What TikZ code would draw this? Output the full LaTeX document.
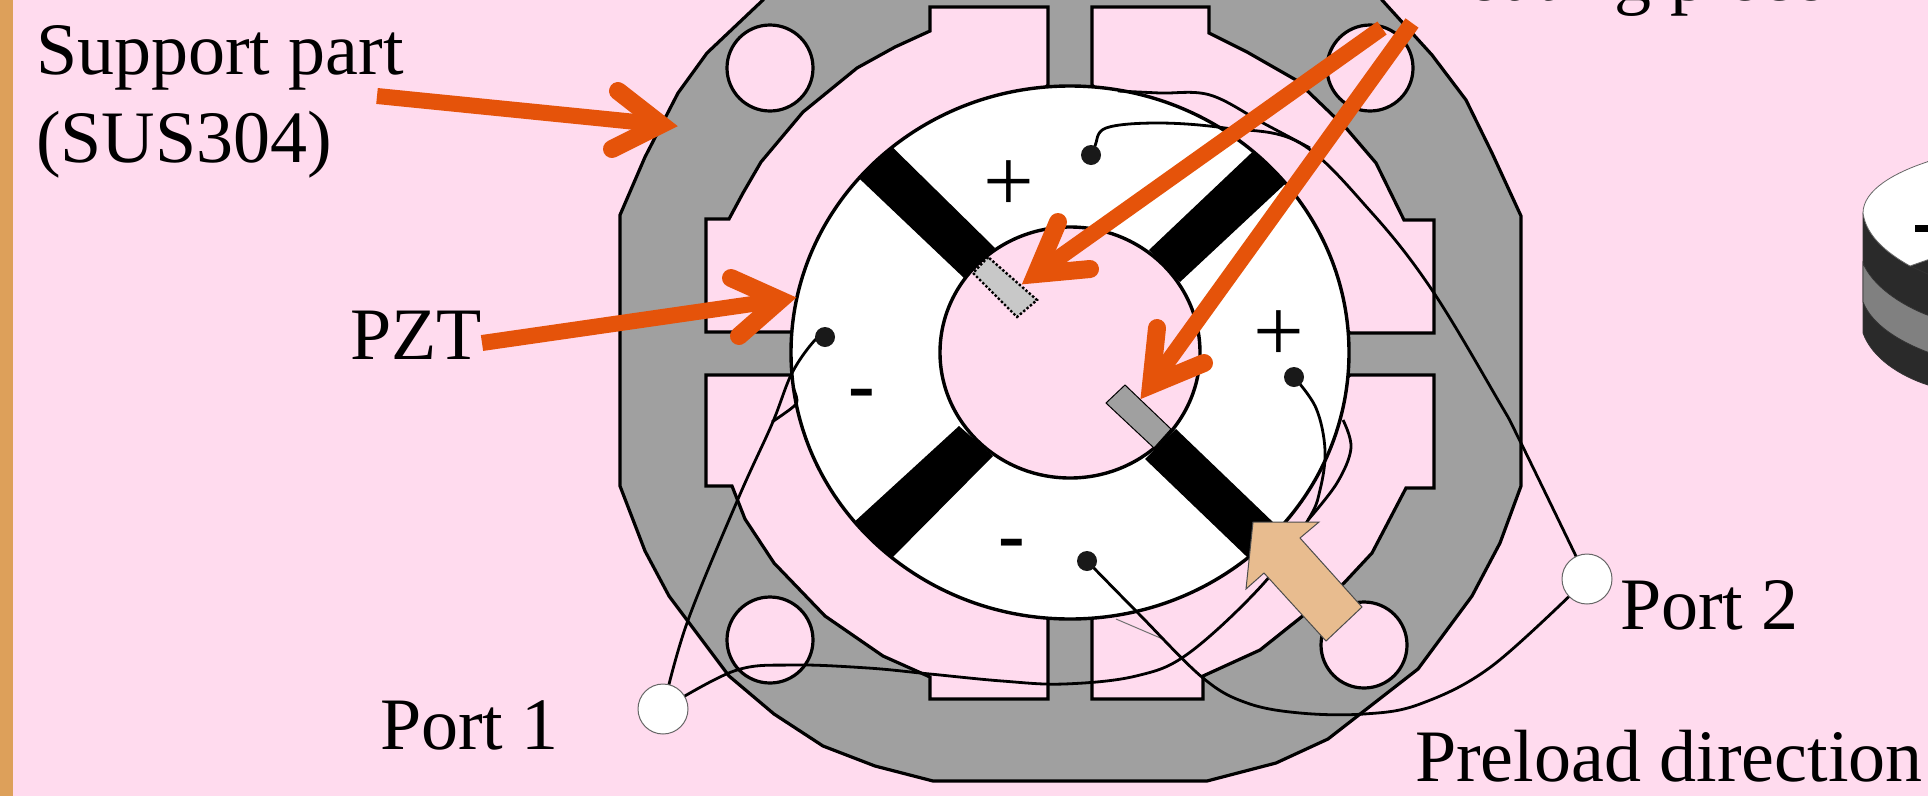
\documentclass[tikz,border=0pt]{standalone}
\usepackage{fontspec}
\setmainfont{Liberation Serif}
\usetikzlibrary{shapes.geometric}
\definecolor{bgpink}{HTML}{FFDBEE}
\definecolor{sidebar}{HTML}{DDA05A}
\definecolor{steel}{HTML}{A0A0A0}
\definecolor{orangeA}{HTML}{E5530A}
\definecolor{beige}{HTML}{E8BC8F}
\definecolor{darkA}{HTML}{2A2A2A}
\definecolor{midgray}{HTML}{808080}
\definecolor{patch}{HTML}{C8C8C8}
\pgfdeclarelayer{base}
\pgfdeclarelayer{wires}
\pgfdeclarelayer{top}
\pgfsetlayers{base,wires,main,top}
\tikzset{
  x=1pt,y=-1pt,
  lbl/.style={font=\fontsize{74}{88}\selectfont,anchor=base west,inner sep=0pt,outer sep=0pt,text=black},
  sgn/.style={font=\fontsize{90}{90}\selectfont,inner sep=0pt,outer sep=0pt},
  minus/.style={font=\fontsize{80}{80}\selectfont\bfseries,inner sep=0pt,outer sep=0pt},
  edge/.style={draw=black,line width=3.2pt,line join=miter},
  hole/.style={draw=black,line width=3.2pt,fill=bgpink},
  wire/.style={draw=black,line width=2.8pt},
  dotnode/.style={circle,fill=black!90,minimum size=20pt,inner sep=0pt,outer sep=0pt},
  portnode/.style={circle,draw=black!60,line width=1pt,fill=white,minimum size=50pt,inner sep=0pt,outer sep=0pt},
  stem/.style={draw=orangeA,line width=16pt,line cap=butt},
  chevron/.style={draw=orangeA,line width=18pt,line cap=round,line join=miter,miter limit=10},
  strip/.style={fill=black},
  smoothwire/.style={smooth,tension=0.6}
}
\begin{document}
\begin{tikzpicture}
\useasboundingbox (0,0) rectangle (1928,796);
\clip (0,0) rectangle (1928,796);

% named parts that are joined
\node[dotnode] (dotT) at (1091,155) {};
\node[dotnode] (dotL) at (825,337) {};
\node[dotnode] (dotR) at (1294,377) {};
\node[dotnode] (dotB) at (1087,561) {};
\node[portnode] (port1) at (663,709) {};
\node[portnode] (port2) at (1587,579) {};

\node[sgn] (plusT) at (1009,186) {+};
\node[sgn] (plusR) at (1279,336) {+};
\node[minus] (minusL) at (862,400) {-};
\node[minus] (minusB) at (1012,550) {-};

\node[lbl,align=left] (support) at (36,162) {Support part\\(SUS304)};
\node[lbl] (pzt) at (350,359) {PZT};
\node[lbl] (portA) at (380,749) {Port 1};
\node[lbl] (portB) at (1620,629) {Port 2};
\node[lbl] (preload) at (1415,781) {Preload direction};
\node[lbl] (floating) at (1405,0) {Floating piece};

\begin{pgfonlayer}{base}
\fill[bgpink] (0,0) rectangle (1928,796);
\fill[sidebar] (0,0) rectangle (13,796);

% support part outline
\path[edge,fill=steel] (620,215) -- (645,157) -- (678,93) -- (707,53) -- (763,0) -- (763,-30) -- (1382,-30) -- (1382,0) -- (1432,55) -- (1466,100) -- (1492,153) -- (1521,216)
  -- (1521,486) -- (1500,543) -- (1472,596) -- (1418,669) -- (1328,739) -- (1276,763) -- (1207,781) -- (933,781) -- (875,766) -- (823,746) -- (774,714) -- (729,676) -- (669,596) -- (645,551) -- (620,486) -- cycle;

% inner openings
\path[edge,fill=bgpink] (1048,85) -- (1048,7) -- (930,7) -- (930,31) -- (895,47) -- (857,68) -- (803,112) -- (761,162) -- (743,193) -- (729,219) -- (706,219) -- (706,332) -- (792,332) -- cycle;
\path[edge,fill=bgpink] (1092,85) -- (1092,7) -- (1209,7) -- (1209,33) -- (1247,52) -- (1296,80) -- (1346,128) -- (1376,163) -- (1404,220) -- (1434,220) -- (1434,333) -- (1350,333) -- cycle;
\path[edge,fill=bgpink] (792,375) -- (706,375) -- (706,486) -- (732,486) -- (745,519) -- (774,563) -- (825,616) -- (883,656) -- (930,677) -- (930,699) -- (1048,699) -- (1048,619) -- cycle;
\path[edge,fill=bgpink] (1350,375) -- (1434,375) -- (1434,488) -- (1406,488) -- (1372,553) -- (1344,583) -- (1260,650) -- (1203,676) -- (1203,699) -- (1092,699) -- (1092,619) -- cycle;

% bolt holes
\path[hole] (770,68) circle (43);
\path[hole] (770,640) circle (43);
\path[hole] (1370,68) circle (43);
\path[hole] (1364,645) circle (43);

% PZT ring with electrode gaps
\path[fill=white] (1070,352.5) ellipse [x radius=279,y radius=266.5];
\begin{scope}
  \clip (1070,352.5) ellipse [x radius=279,y radius=266.5];
  \fill[strip] (877,132) -- (843,163) -- (964,278) -- (995,248) -- cycle;
  \fill[strip] (1265,140) -- (1300,170) -- (1180,282) -- (1149,250) -- cycle;
  \fill[strip] (840,535) -- (880,570) -- (993,456) -- (959,426) -- cycle;
  \fill[strip] (1301,549) -- (1270,579) -- (1145,459) -- (1176,429) -- cycle;
\end{scope}
\path[draw=black,line width=3.4pt] (1070,352.5) ellipse [x radius=279,y radius=266.5];
\path[hole,line width=3.4pt] (1070,352.5) ellipse [x radius=130,y radius=125.5];

% bonded pieces
\path[draw=black,line width=2.4pt,dotted,fill=patch] (988,257) -- (973,273) -- (1017,317) -- (1037,300) -- cycle;
\path[draw=black,line width=1pt,fill=steel] (1125,385) -- (1106,403) -- (1154,448) -- (1171,429) -- cycle;

% thin stray line
\path[draw=black!55,line width=1pt] (1116,619) -- (1165,640);

% stacked cylinder at the right edge
\path[fill=darkA,draw=black!80,line width=.8pt] (1863,213) -- (1863,333) .. controls (1872,358) and (1900,376) .. (1928,385) -- (1930,385) -- (1930,160) -- cycle;
\path[fill=midgray,draw=black!80,line width=.8pt] (1863,263) .. controls (1872,285) and (1900,305) .. (1930,316) -- (1930,353) .. controls (1900,342) and (1872,325) .. (1863,302) -- cycle;
\path[draw=black!80,line width=.8pt] (1910,266) -- (1930,275);
\path[fill=white,draw=black!60,line width=.8pt] (1930,161) .. controls (1895,172) and (1863,190) .. (1863,213) .. controls (1866,235) and (1885,252) .. (1910,266) -- (1930,259) -- cycle;
\fill[black] (1915,225) rectangle (1930,232);
\end{pgfonlayer}

\begin{pgfonlayer}{wires}
\draw[wire] plot[smoothwire] coordinates {(dotT) (1095,146) (1106,128) (1158,123) (1225,128) (1300,143) (1372,213) (1432,290) (1498,400) (1520,441) (port2)};
\draw[wire] plot[smoothwire] coordinates {(1118,91) (1160,93) (1210,95) (1263,123) (1310,148)};
\draw[wire] plot[smoothwire] coordinates {(dotB) (1138,613) (1203,678) (1247,703) (1300,713) (1364,714) (1420,704) (1492,666) (port2)};
\draw[wire] plot[smoothwire] coordinates {(dotR) (1316,408) (1325,450) (1320,490) (1308,520) (1264,583) (1189,653) (1136,676) (1064,684) (1002,681) (930,674) (868,668) (792,665) (734,671) (port1)};
\draw[wire] plot[smoothwire] coordinates {(1343,420) (1351,448) (1337,483) (1308,520)};
\draw[wire] plot[smoothwire] coordinates {(dotL) (815,340) (792,373) (772,424) (738,499) (687,623) (port1)};
\draw[wire] plot[smoothwire] coordinates {(793,387) (797,400) (793,407) (772,422)};
\end{pgfonlayer}

\begin{pgfonlayer}{top}
% preload arrow
\path[draw=black!70,line width=1pt,fill=beige] (1253,522) -- (1319,522) -- (1300,538) -- (1362,607) -- (1326,641) -- (1264,573) -- (1246,589) -- cycle;
% leader arrows
\coordinate (tipS) at (661,124.5); \coordinate (tipP) at (780,300);
\coordinate (tipF) at (1036,274); \coordinate (tipG) at (1151,385);
\draw[stem] (377,96) -- (tipS);
\draw[chevron] (618,91) -- (tipS) -- (612,149);
\draw[stem] (482,343) -- (tipP);
\draw[chevron] (731,278) -- (tipP) -- (739,336);
\draw[stem] (1382,28) -- (tipF);
\draw[chevron] (1058,222) -- (tipF) -- (1090,269);
\draw[stem] (1412,23) -- (tipG);
\draw[chevron] (1157,328) -- (tipG) -- (1204,363);
\end{pgfonlayer}
\end{tikzpicture}
\end{document}
